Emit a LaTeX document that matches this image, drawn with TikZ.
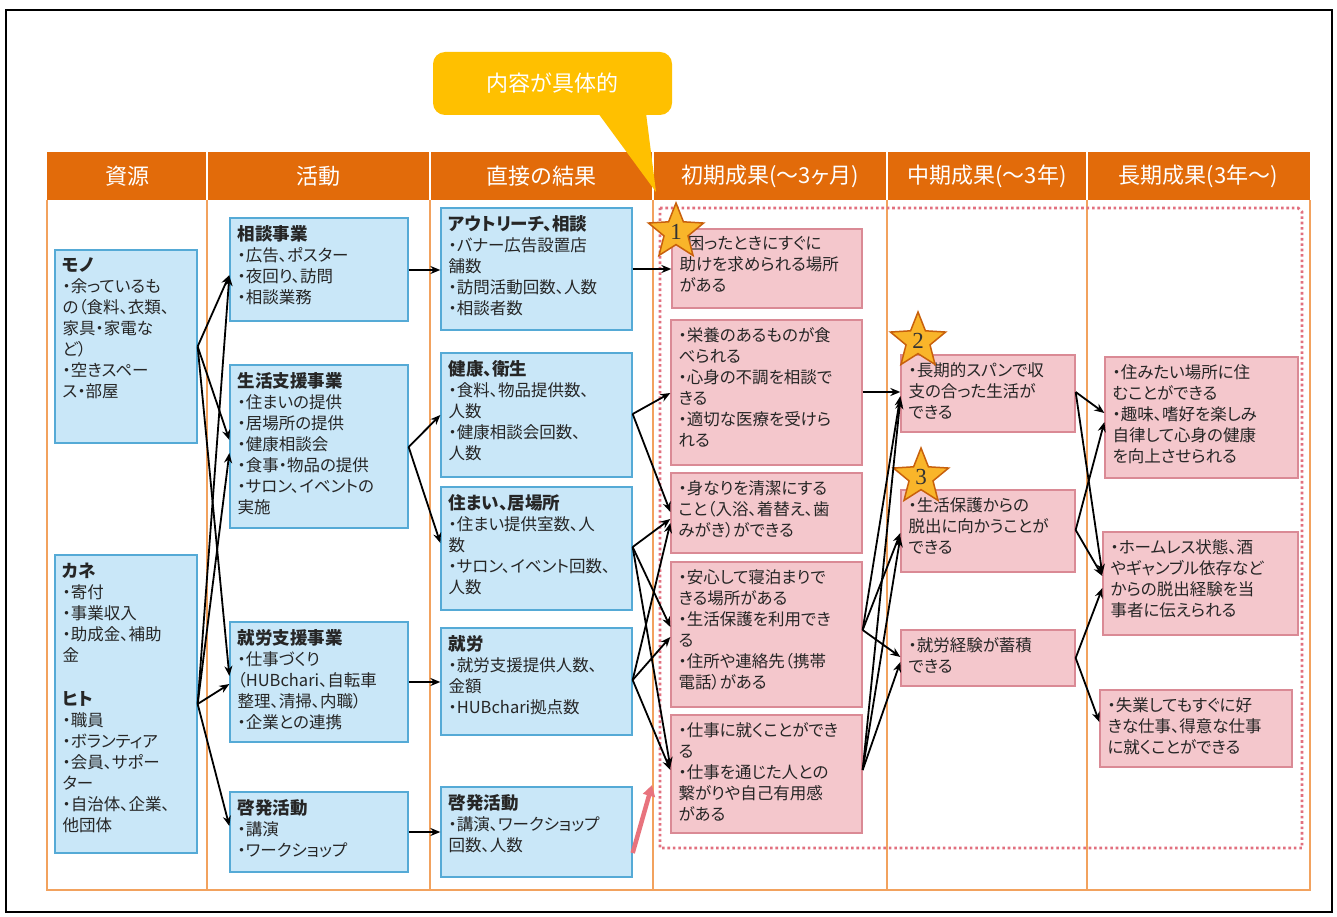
\documentclass[tikz,border=0pt]{standalone}
\usepackage{fontspec}
\setmainfont{Noto Sans CJK JP}[RawFeature={+palt}]
\newfontfamily\numfont{Liberation Serif}
\usetikzlibrary{arrows.meta,shapes.geometric,fit,calc}
\definecolor{hdr}{HTML}{E26B0A}
\definecolor{colline}{HTML}{F2A25E}
\definecolor{bluefill}{HTML}{C9E7F8}
\definecolor{bluedraw}{HTML}{55AAD6}
\definecolor{pinkfill}{HTML}{F4C7CC}
\definecolor{pinkdraw}{HTML}{DA8A95}
\definecolor{dotcol}{HTML}{E2707F}
\definecolor{callcol}{HTML}{FFC000}
\definecolor{starfill}{HTML}{F9B52A}
\definecolor{stardraw}{HTML}{C8600C}
\definecolor{txtcol}{HTML}{262626}
\definecolor{pinkarrow}{HTML}{E8737D}
\newcommand\lmbox[5]{%
  \node[#2, fit={(#3) (#4)}, inner sep=0pt] (#1) {};
  \node[txt] at ([xshift=8pt,yshift=-8pt]#1.north west) {#5};}
\newcommand\bhead[1]{{\fontsize{17.5}{21}\selectfont\bfseries #1}}
\tikzset{
  bbox/.style={draw=bluedraw, fill=bluefill, line width=1.3pt},
  pbox/.style={draw=pinkdraw, fill=pinkfill, line width=1.3pt},
  txt/.style={anchor=north west, align=left, inner sep=0pt, text=txtcol, font=\fontsize{16.5}{21}\selectfont},
  arr/.style={-{Stealth[length=10pt,width=8pt]}, line width=1.8pt, black},
  hd/.style={text=white, font=\fontsize{22}{24}\selectfont, inner sep=0pt},
  colrule/.style={draw=colline, line width=1.8pt},
  starbox/.style={star, star points=5, star point ratio=2.3, minimum size=58pt, inner sep=0pt, fill=starfill, draw=stardraw, line width=1.5pt, text=black!80, font=\numfont\fontsize{23}{23}\selectfont}
}
\begin{document}
\begin{tikzpicture}[x=1pt,y=-1pt]
\useasboundingbox (0,0) rectangle (1337,917);
\fill[white] (0,0) rectangle (1337,917);
% outer frame
\draw[line width=2pt, black] (6,10) rectangle (1332,912);

% header
\fill[hdr] (47,152) rectangle (1310,200);
\foreach \xx in {207,430,653,887,1087} \draw[white, line width=1.5pt] (\xx,152) -- (\xx,200);
\node[hd] (h1) at (127,176) {資源};
\node[hd] (h2) at (318.5,176) {活動};
\node[hd] (h3) at (541.5,176) {直接の結果};
\node[hd] (h4) at (770,176) {初期成果(～3ヶ月)};
\node[hd] (h5) at (987,176) {中期成果(～3年)};
\node[hd] (h6) at (1198.5,176) {長期成果(3年～)};

% body columns
\draw[colrule] (47,200) -- (47,890) -- (1310,890) -- (1310,200);
\foreach \xx in {207,430,653,887,1087} \draw[colrule] (\xx,200) -- (\xx,890);

% dotted frame of outcomes
\draw[dotcol, line width=2.8pt, dash pattern=on 2.6pt off 2.8pt] (660,208) -- (1298,208) -- (1302,212) -- (1302,848) -- (660,848) -- cycle;

% callout
\node[fill=callcol, rounded corners=12pt, minimum width=239pt, minimum height=63pt, inner sep=0pt, text=white, font=\fontsize{22}{24}\selectfont] (callout) at (552.5,83.5) {内容が具体的};
\fill[callcol] (598,113) -- (656,192) -- (646,113) -- cycle;

% resources
\lmbox{mono}{bbox}{55,250}{197,443}{\bhead{モノ}\\・余っているも\\の（食料、衣類、\\家具・家電な\\ど）\\・空きスペー\\ス・部屋}
\lmbox{kane}{bbox}{55,555}{197,853}{\bhead{カネ}\\・寄付\\・事業収入\\・助成金、補助\\金\\[23pt]\bhead{ヒト}\\・職員\\・ボランティア\\・会員、サポー\\ター\\・自治体、企業、\\他団体}

% activities
\lmbox{a1}{bbox}{230,218}{408,321}{\bhead{相談事業}\\・広告、ポスター\\・夜回り、訪問\\・相談業務}
\lmbox{a2}{bbox}{230,365}{408,528}{\bhead{生活支援事業}\\・住まいの提供\\・居場所の提供\\・健康相談会\\・食事・物品の提供\\・サロン、イベントの\\実施}
\lmbox{a3}{bbox}{230,622}{408,742}{\bhead{就労支援事業}\\・仕事づくり\\（HUBchari、自転車\\整理、清掃、内職）\\・企業との連携}
\lmbox{a4}{bbox}{230,792}{408,872}{\bhead{啓発活動}\\・講演\\・ワークショップ}

% direct results
\lmbox{d1}{bbox}{441,208}{632,330}{\bhead{アウトリーチ、相談}\\・バナー広告設置店\\舗数\\・訪問活動回数、人数\\・相談者数}
\lmbox{d2}{bbox}{441,353}{632,477}{\bhead{健康、衛生}\\・食料、物品提供数、\\人数\\・健康相談会回数、\\人数}
\lmbox{d3}{bbox}{441,487}{632,610}{\bhead{住まい、居場所}\\・住まい提供室数、人\\数\\・サロン、イベント回数、\\人数}
\lmbox{d4}{bbox}{441,628}{632,735}{\bhead{就労}\\・就労支援提供人数、\\金額\\・HUBchari拠点数}
\lmbox{d5}{bbox}{441,787}{632,877}{\bhead{啓発活動}\\・講演、ワークショップ\\回数、人数}

% initial outcomes
\lmbox{i1}{pbox}{672,229}{862,308}{・困ったときにすぐに\\助けを求められる場所\\がある}
\lmbox{i2}{pbox}{671,320}{862,465}{・栄養のあるものが食\\べられる\\・心身の不調を相談で\\きる\\・適切な医療を受けら\\れる}
\lmbox{i3}{pbox}{671,473}{862,553}{・身なりを清潔にする\\こと（入浴、着替え、歯\\みがき）ができる}
\lmbox{i4}{pbox}{671,562}{862,707}{・安心して寝泊まりで\\きる場所がある\\・生活保護を利用でき\\る\\・住所や連絡先（携帯\\電話）がある}
\lmbox{i5}{pbox}{671,715}{862,833}{・仕事に就くことができ\\る\\・仕事を通じた人との\\繋がりや自己有用感\\がある}

% mid outcomes
\lmbox{m1}{pbox}{901,355}{1075,432}{・長期的スパンで収\\支の合った生活が\\できる}
\lmbox{m2}{pbox}{901,490}{1075,572}{・生活保護からの\\脱出に向かうことが\\できる}
\lmbox{m3}{pbox}{901,630}{1075,686}{・就労経験が蓄積\\できる}

% long outcomes
\lmbox{l1}{pbox}{1105,357}{1298,478}{・住みたい場所に住\\むことができる\\・趣味、嗜好を楽しみ\\自律して心身の健康\\を向上させられる}
\lmbox{l2}{pbox}{1103,532}{1298,635}{・ホームレス状態、酒\\やギャンブル依存など\\からの脱出経験を当\\事者に伝えられる}
\lmbox{l3}{pbox}{1100,690}{1292,767}{・失業してもすぐに好\\きな仕事、得意な仕事\\に就くことができる}

% stars
\node[starbox] (s1) at (676,232) {1};
\node[starbox] (s2) at (918,341) {2};
\node[starbox] (s3) at (921,477) {3};

% arrows: resources -> activities
\draw[arr] (mono.east) -- (a1.west |- 0,275);
\draw[arr] (mono.east) -- (a2.west |- 0,440);
\draw[arr] (mono.east) -- (a3.west |- 0,676);
\draw[arr] (kane.east) -- (a1.west |- 0,276);
\draw[arr] (kane.east) -- (a2.west |- 0,453);
\draw[arr] (kane.east) -- (a3.west |- 0,684);
\draw[arr] (kane.east) -- (a4.west |- 0,826);

% activities -> direct results
\draw[arr] (a1.east |- 0,270) -- (d1.west |- 0,270);
\draw[arr] (a2.east |- 0,447) -- (d2.west |- 0,415);
\draw[arr] (a2.east |- 0,447) -- (d3.west |- 0,543);
\draw[arr] (a3.east |- 0,682) -- (d4.west |- 0,682);
\draw[arr] (a4.east |- 0,832) -- (d5.west |- 0,832);

% direct -> initial
\draw[arr] (d1.east |- 0,269) -- (i1.west |- 0,269);
\draw[arr] (d2.east |- 0,414) -- (i2.west |- 0,393);
\draw[arr] (d2.east |- 0,414) -- (i3.west |- 0,512);
\draw[arr] (d3.east |- 0,547) -- (i3.west |- 0,519);
\draw[arr] (d3.east |- 0,547) -- (i4.west |- 0,627);
\draw[arr] (d3.east |- 0,547) -- (i5.west |- 0,767);
\draw[arr] (d4.east |- 0,680) -- (i3.west |- 0,523);
\draw[arr] (d4.east |- 0,680) -- (i4.west |- 0,637);
\draw[arr] (d4.east |- 0,680) -- (i5.west |- 0,770);
\coordinate (pinktip) at (652,785);
\draw[pinkarrow, line width=4.5pt, -{Triangle[length=11pt,width=12pt]}] (d5.east |- 0,853) -- (pinktip);

% initial -> mid
\draw[arr] (i2.east |- 0,392) -- (m1.west |- 0,392);
\draw[arr] (i4.east |- 0,630) -- (m1.west |- 0,396);
\draw[arr] (i4.east |- 0,630) -- (m2.west |- 0,533);
\draw[arr] (i4.east |- 0,630) -- (m3.west |- 0,657);
\draw[arr] (i5.east |- 0,770) -- (m1.west |- 0,399);
\draw[arr] (i5.east |- 0,770) -- (m2.west |- 0,537);
\draw[arr] (i5.east |- 0,770) -- (m3.west |- 0,662);

% mid -> long
\draw[arr] (m1.east |- 0,392) -- (l1.west |- 0,413);
\draw[arr] (m1.east |- 0,392) -- (l2.west |- 0,574);
\draw[arr] (m2.east |- 0,530) -- (l1.west |- 0,422);
\draw[arr] (m2.east |- 0,530) -- (l2.west |- 0,576);
\draw[arr] (m3.east |- 0,658) -- (l2.west |- 0,588);
\draw[arr] (m3.east |- 0,658) -- (l3.west |- 0,722);
\end{tikzpicture}
\end{document}
